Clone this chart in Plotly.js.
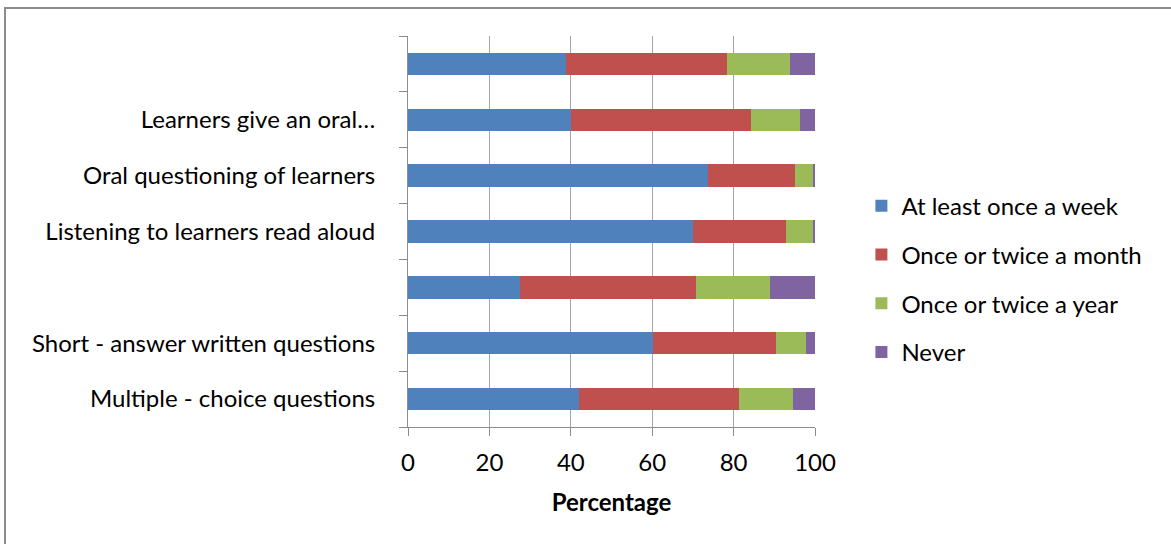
<!DOCTYPE html>
<html>
<head>
<meta charset="utf-8">
<script src="https://cdn.plot.ly/plotly-3.0.1.min.js"></script>
<style>
html,body{margin:0;padding:0;background:#fff;overflow:hidden;}
#frame{position:absolute;left:4px;top:7px;width:1180px;height:560px;border:2px solid #8c8c8c;box-sizing:border-box;}
#chart{position:absolute;left:0;top:0;width:1171px;height:544px;}
</style>
</head>
<body>
<div id="frame"></div>
<div id="chart"></div>
<script>
// categories listed top to bottom
const categories = ["", "Learners give an oral\u2026", "Oral questioning of learners", "Listening to learners read aloud", "", "Short - answer written questions", "Multiple - choice questions"];
const seriesNames = ["At least once a week", "Once or twice a month", "Once or twice a year", "Never"];
const atLeastWeekly = [38.9, 40.1, 73.6, 70.1, 27.5, 60.3, 42.1];
const monthly = [39.4, 44.2, 21.5, 22.8, 43.2, 30.0, 39.3];
const yearly = [15.5, 12.0, 4.3, 6.6, 18.3, 7.6, 13.3];
const never = [6.2, 3.7, 0.6, 0.5, 11.0, 2.1, 5.3];
const xTicks = [0, 20, 40, 60, 80, 100];

const colors = ["#4f81bd", "#c0504d", "#9bbb59", "#8064a2"];
const values = [atLeastWeekly, monthly, yearly, never];
const yIdx = categories.map((c, i) => i);

const traces = values.map((v, k) => ({
  type: "bar",
  orientation: "h",
  name: seriesNames[k],
  legendgroup: "g" + k,
  x: v,
  y: yIdx,
  marker: {color: colors[k], line: {width: 0}},
  hoverinfo: "x+name"
}));

const font = {family: "Lato, 'Open Sans', sans-serif", size: 24, color: "#000"};

const layout = {
  width: 1171, height: 544,
  margin: {l: 408, r: 356, t: 36, b: 117, pad: 0},
  paper_bgcolor: "rgba(0,0,0,0)",
  plot_bgcolor: "rgba(0,0,0,0)",
  barmode: "stack",
  bargap: 0.6,
  font: font,
  showlegend: true,
  legend: {
    x: 1.114, xanchor: "left", y: 0.378, yanchor: "middle",
    traceorder: "grouped", tracegroupgap: 14.5,
    font: font, bgcolor: "rgba(0,0,0,0)"
  },
  xaxis: {
    range: [0, 100],
    tickvals: xTicks,
    ticktext: xTicks.map(String),
    showgrid: true, gridcolor: "#a6a6a6", gridwidth: 1,
    showline: true, linecolor: "#8c8c8c", linewidth: 1,
    ticks: "outside", ticklen: 8, tickcolor: "#8c8c8c",
    zeroline: false,
    tickfont: font,
    ticklabelstandoff: 6,
    title: {text: "<b>Percentage</b>", font: font, standoff: 19},
    fixedrange: true
  },
  yaxis: {
    range: [6.5, -0.5],
    tickmode: "array",
    tickvals: yIdx,
    ticktext: categories,
    ticks: "",
    showgrid: false, zeroline: false,
    showline: true, linecolor: "#8c8c8c", linewidth: 1,
    tickfont: font,
    ticklabelstandoff: 27,
    minor: {ticks: "outside", ticklen: 8, tickcolor: "#8c8c8c", tick0: -0.5, dtick: 1, showgrid: false},
    fixedrange: true
  }
};

Plotly.newPlot("chart", traces, layout, {displayModeBar: false, staticPlot: true});
</script>
</body>
</html>
